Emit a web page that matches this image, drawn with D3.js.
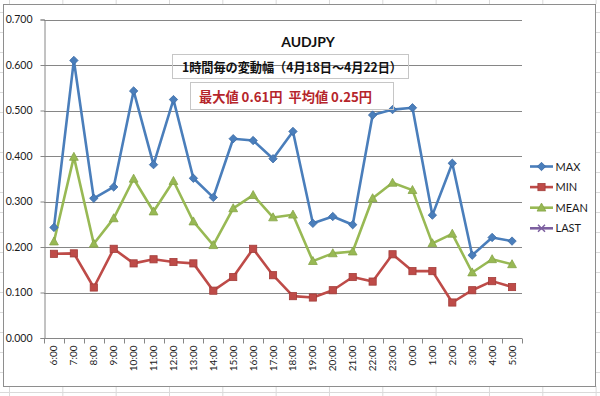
<!DOCTYPE html>
<html><head><meta charset="utf-8">
<script src="https://cdn.jsdelivr.net/npm/d3@7"></script>
<style>html,body{margin:0;padding:0;background:#fff;}svg{display:block;}</style>
</head><body>
<svg id="c" width="600" height="396"></svg>
<script>
const categories = ["6:00","7:00","8:00","9:00","10:00","11:00","12:00","13:00","14:00","15:00","16:00","17:00","18:00","19:00","20:00","21:00","22:00","23:00","0:00","1:00","2:00","3:00","4:00","5:00"];
const maxValues  = [0.243,0.610,0.307,0.332,0.543,0.381,0.524,0.351,0.309,0.438,0.434,0.394,0.454,0.252,0.267,0.249,0.490,0.502,0.506,0.270,0.384,0.182,0.221,0.213];
const minValues  = [0.185,0.186,0.111,0.196,0.164,0.173,0.167,0.164,0.104,0.134,0.196,0.138,0.092,0.089,0.105,0.134,0.124,0.184,0.147,0.147,0.078,0.105,0.125,0.112];
const meanValues = [0.212,0.398,0.207,0.263,0.350,0.278,0.345,0.256,0.204,0.285,0.314,0.265,0.271,0.169,0.186,0.190,0.307,0.341,0.325,0.208,0.229,0.144,0.173,0.162];
const lastValues = [];
const yTicks = [0,0.1,0.2,0.3,0.4,0.5,0.6,0.7];
const seriesNames = ["MAX","MIN","MEAN","LAST"];
const title = "AUDJPY";
const subtitle = "1時間毎の変動幅（4月18日～4月22日）";
const note = "最大値 0.61円  平均値 0.25円";

const svg = d3.select("#c");
const W = 600, H = 396;

// spreadsheet background grid (outside chart)
const bg = svg.append("g").attr("stroke","#dadada").attr("stroke-width",1);
for (let gxp = 9.5; gxp < W; gxp += 53.33) {
  bg.append("line").attr("x1",gxp).attr("x2",gxp).attr("y1",0).attr("y2",4);
  bg.append("line").attr("x1",gxp).attr("x2",gxp).attr("y1",386).attr("y2",H);
}
bg.append("line").attr("x1",0).attr("x2",W).attr("y1",392.5).attr("y2",392.5);
for (let gyp = 12.5; gyp < H; gyp += 20) {
  bg.append("line").attr("x1",0).attr("x2",3).attr("y1",gyp).attr("y2",gyp);
  bg.append("line").attr("x1",596).attr("x2",W).attr("y1",gyp).attr("y2",gyp);
}

// chart frame
svg.append("rect").attr("x",3.5).attr("y",4.5).attr("width",592).attr("height",382)
  .attr("fill","#fff").attr("stroke","#8e8e8e").attr("stroke-width",1);

const pLeft = 44, pRight = 522, pTop = 19.5, pBottom = 338;
const x = d3.scaleBand().domain(categories).range([pLeft,pRight]).padding(0);
const y = d3.scaleLinear().domain([0,0.7]).range([pBottom,pTop]);
const cx = c => x(c) + x.bandwidth()/2;

// gridlines
svg.append("g").selectAll("line").data(yTicks.slice(1)).join("line")
  .attr("x1",pLeft).attr("x2",pRight)
  .attr("y1",d=>Math.round(y(d))+0.5).attr("y2",d=>Math.round(y(d))+0.5)
  .attr("stroke","#868686").attr("stroke-width",1);

// y axis
const yAxis = d3.axisLeft(y).tickValues(yTicks).tickFormat(d3.format(".3f")).tickSize(4).tickPadding(8);
const gy = svg.append("g").attr("transform",`translate(${pLeft+0.5},0)`).call(yAxis);
gy.select(".domain").attr("stroke","#868686");
gy.selectAll(".tick line").attr("stroke","#868686");
gy.selectAll(".tick text").attr("font-family","Lato, 'Liberation Sans', sans-serif").attr("font-size","10.5px").attr("fill","#1a1a1a");

// x axis
const gx = svg.append("g").attr("transform",`translate(0,${pBottom+0.5})`);
gx.append("line").attr("x1",pLeft).attr("x2",pRight).attr("stroke","#868686");
const bounds = categories.map(c=>x(c)).concat([pRight]);
gx.selectAll("line.t").data(bounds).join("line").attr("class","t")
  .attr("x1",d=>Math.round(d)+0.5).attr("x2",d=>Math.round(d)+0.5).attr("y1",0).attr("y2",5)
  .attr("stroke","#868686");
gx.selectAll("text").data(categories).join("text")
  .attr("transform",d=>`translate(${cx(d)+3.5},7) rotate(-90)`)
  .attr("text-anchor","end")
  .attr("font-family","Lato, 'Liberation Sans', sans-serif").attr("font-size","10px").attr("fill","#1a1a1a")
  .text(d=>d);

// series
const colors = {MAX:"#4a7ebb", MIN:"#be4b48", MEAN:"#98b954", LAST:"#7d60a0"};
const data = {MAX:maxValues, MIN:minValues, MEAN:meanValues, LAST:lastValues};
const line = d3.line().x((d,i)=>cx(categories[i])).y(d=>y(d));

function marker(g, name, px, py) {
  const c = colors[name];
  if (name==="MAX") {
    g.append("path").attr("d",`M${px},${py-4.2}L${px+4.2},${py}L${px},${py+4.2}L${px-4.2},${py}Z`)
      .attr("fill",c).attr("stroke","#3a6aa5").attr("stroke-width",0.8);
  } else if (name==="MIN") {
    g.append("rect").attr("x",px-3.6).attr("y",py-3.6).attr("width",7.2).attr("height",7.2)
      .attr("fill",c).attr("stroke","#a33d3a").attr("stroke-width",0.8);
  } else if (name==="MEAN") {
    g.append("path").attr("d",`M${px},${py-4.6}L${px+4.4},${py+3.4}L${px-4.4},${py+3.4}Z`)
      .attr("fill",c).attr("stroke","#86a548").attr("stroke-width",0.8);
  } else {
    g.append("path").attr("d",`M${px-3.5},${py-3.5}L${px+3.5},${py+3.5}M${px-3.5},${py+3.5}L${px+3.5},${py-3.5}`)
      .attr("stroke",c).attr("stroke-width",1.5).attr("fill","none");
  }
}

["MIN","MEAN","MAX","LAST"].forEach(name=>{
  const vals = data[name];
  if (!vals.length) return;
  const g = svg.append("g");
  g.append("path").datum(vals).attr("d",line).attr("fill","none")
    .attr("stroke",colors[name]).attr("stroke-width",2.6).attr("stroke-linejoin","round");
  vals.forEach((v,i)=>marker(g,name,cx(categories[i]),y(v)));
});

// legend
const lg = svg.append("g");
seriesNames.forEach((name,i)=>{
  const ly = 166.5 + i*20.6;
  lg.append("line").attr("x1",530).attr("x2",553).attr("y1",ly).attr("y2",ly)
    .attr("stroke",colors[name]).attr("stroke-width",2.6);
  marker(lg,name,541.5,ly);
  lg.append("text").attr("x",555.5).attr("y",ly+4).attr("font-family","Lato, 'Liberation Sans', sans-serif")
    .attr("font-size","11px").attr("fill","#1a1a1a").text(name);
});

// titles
svg.append("text").attr("x",308).attr("y",47).attr("text-anchor","middle")
  .attr("font-family","Lato, 'Liberation Sans', sans-serif").attr("font-weight","bold").attr("font-size","14px")
  .attr("fill","#111").text(title);

svg.append("rect").attr("x",172.5).attr("y",54.5).attr("width",236).attr("height",24)
  .attr("fill","none").attr("stroke","#c6c6c6");
svg.append("text").attr("x",182).attr("y",71.5)
  .attr("font-family","'Noto Sans CJK JP', sans-serif").attr("font-weight","bold").attr("font-size","13px")
  .attr("fill","#111").attr("textLength",220).attr("lengthAdjust","spacingAndGlyphs").text(subtitle);

svg.append("rect").attr("x",190.5).attr("y",82.5).attr("width",203).attr("height",27)
  .attr("fill","none").attr("stroke","#c6c6c6");
svg.append("text").attr("x",199).attr("y",101.5).style("white-space","pre")
  .attr("font-family","'Noto Sans CJK JP', sans-serif").attr("font-weight","bold").attr("font-size","13.5px")
  .attr("fill","#b5252b").attr("textLength",173).attr("lengthAdjust","spacingAndGlyphs").text(note);
</script>
</body></html>
